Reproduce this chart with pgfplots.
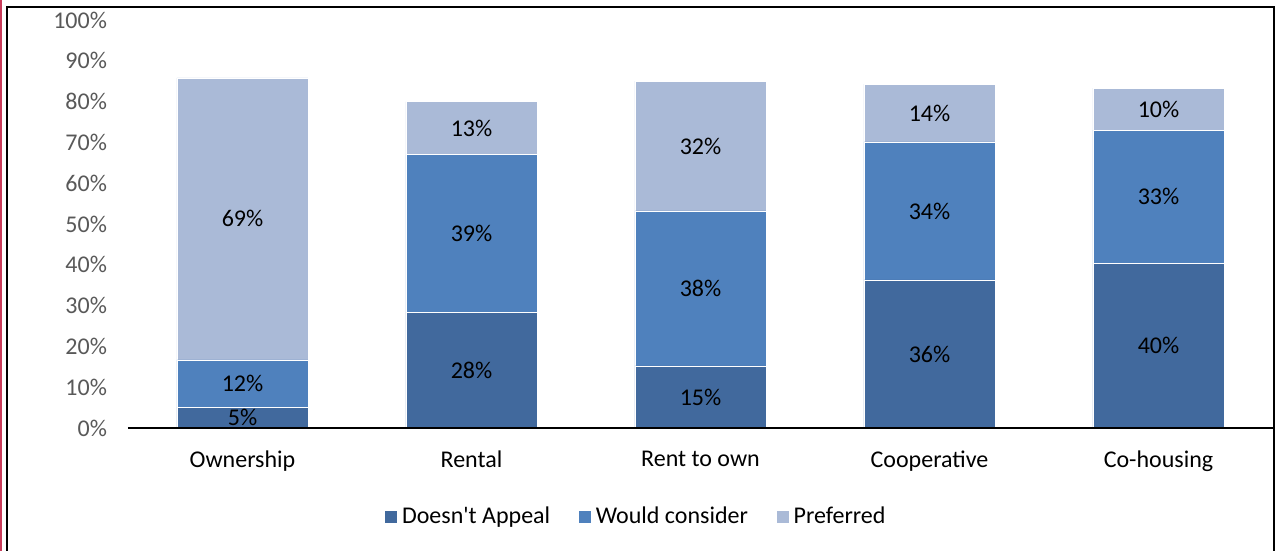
\documentclass[border=0pt]{standalone}
\usepackage{pgfplots}
\usepackage{pgfplotstable}
\pgfplotsset{compat=1.18}
\usepackage{fontspec}
\setmainfont{Carlito}
\definecolor{cA}{RGB}{65,105,157}
\definecolor{cB}{RGB}{79,129,189}
\definecolor{cC}{RGB}{170,186,215}
\definecolor{tickgray}{RGB}{89,89,89}
\definecolor{framered}{RGB}{200,60,90}
\pgfplotstableread{
x a b c
0 5.1 11.6 69.1
1 28.4 38.6 13.0
2 15.2 38.0 31.8
3 36.3 33.8 14.2
4 40.4 32.6 10.3
}\datatable
\begin{document}
\begin{tikzpicture}
\path[use as bounding box] (0pt,0pt) rectangle (638pt,-275.5pt);
\fill[framered] (0pt,0pt) rectangle (1pt,-275.5pt);
\draw[line width=1.1pt] (3.5pt,-276pt) -- (3.5pt,-3.5pt) -- (637pt,-3.5pt) -- (637pt,-276pt);
\begin{axis}[
  at={(64pt,-214pt)}, anchor=south west,
  scale only axis, width=572.5pt, height=204pt,
  ybar stacked, bar width=65.5pt,
  xmin=-0.5, xmax=4.5, ymin=0, ymax=100,
  xtick=data, xticklabels={Ownership,Rental,Rent to own,Cooperative,Co-housing},
  ytick={0,10,...,100},
  yticklabel={\pgfmathprintnumber[assume math mode=true]{\tick}\%},
  major tick length=0pt,
  axis on top,
  axis lines*=left,
  y axis line style={draw=none},
  x axis line style={black, line width=1pt, -},
  yticklabel style={text=tickgray, font=\fontsize{12}{14}\selectfont, xshift=-7pt},
  xticklabel style={text=black, font=\fontsize{12}{14}\selectfont, yshift=-8pt},
  point meta=explicit,
  nodes near coords={\pgfmathprintnumber[fixed,precision=0,assume math mode=true]{\pgfplotspointmeta}\%},
  every node near coord/.append style={anchor=center, text=black, font=\fontsize{12}{14}\selectfont},
  legend columns=3,
  legend style={at={(0.4445,-0.218)}, anchor=center, draw=none, fill=none,
    font=\fontsize{12}{14}\selectfont, /tikz/every even column/.append style={column sep=12pt}},
  legend image code/.code={\fill[#1] (0pt,-3.25pt) rectangle (6.5pt,3.25pt);},
]
\addplot[fill=cA, draw=white, line width=0.3pt] table[x=x, y=a, meta=a] {\datatable};
\addplot[fill=cB, draw=white, line width=0.3pt] table[x=x, y=b, meta=b] {\datatable};
\addplot[fill=cC, draw=white, line width=0.3pt] table[x=x, y=c, meta=c] {\datatable};
\legend{Doesn\textquotesingle t Appeal, Would consider, Preferred}
\end{axis}
\end{tikzpicture}
\end{document}
